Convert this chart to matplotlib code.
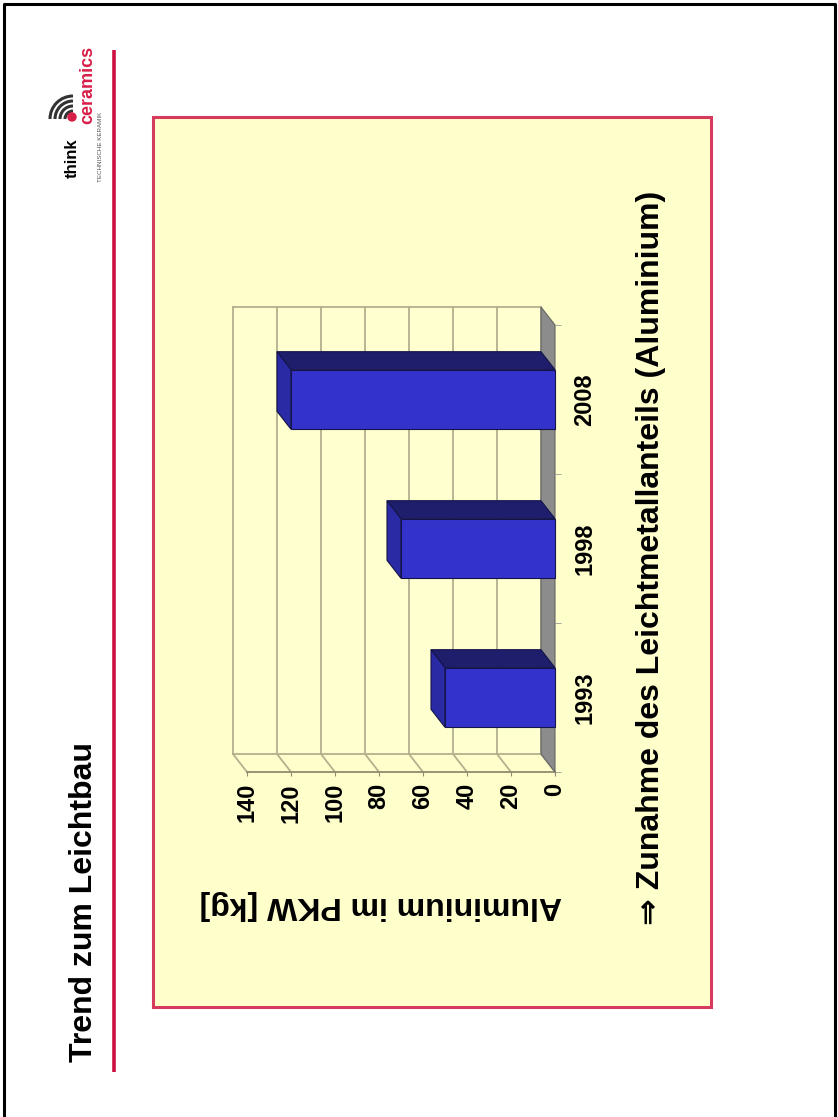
import matplotlib.pyplot as plt
from matplotlib.patches import Polygon, Rectangle, Arc, Circle

plt.rcParams['font.family'] = ['Liberation Sans', 'DejaVu Sans']

# data
years = ["2008", "1998", "1993"]
aluminium_kg = [120, 70, 50]
value_ticks = [0, 20, 40, 60, 80, 100, 120, 140]

W, H = 838, 1117
fig = plt.figure(figsize=(W / 100, H / 100), dpi=100)

# slide layer, pixel coordinates (y down)
bg = fig.add_axes([0, 0, 1, 1])
bg.set_xlim(0, W)
bg.set_ylim(H, 0)
bg.axis('off')

bg.plot([4, 4, 835, 835], [H, 4, 4, H], color='black', lw=2.2)
bg.add_patch(Rectangle((153, 117), 558, 890, fc='#ffffcc', ec='#d63a5c', lw=2.2))
bg.plot([114, 114], [50, 1072], color='#cc1040', lw=2.6, solid_capstyle='butt')

fig.text(84 / W, 1 - 1062 / H, "Trend zum Leichtbau", rotation=90,
         ha='center', va='bottom', fontsize=23, fontweight='bold')

# logo
for r in [8, 13, 18, 23]:
    bg.add_patch(Arc((73, 119), 2 * r, 2 * r, theta1=180, theta2=270,
                     color='#333333', lw=2.2))
bg.add_patch(Circle((72, 117), 4, color='#d81e48'))
fig.text(72 / W, 1 - 178 / H, "think", rotation=90, ha='center', va='bottom',
         fontsize=12, fontweight='bold')
fig.text(88 / W, 1 - 124 / H, "ceramics", rotation=90, ha='center', va='bottom',
         fontsize=13, fontweight='bold', color='#d81e48')
fig.text(100.5 / W, 1 - 182 / H, "TECHNISCHE KERAMIK", rotation=90, ha='center',
         va='bottom', fontsize=4.5, color='#555555')

# chart axes: value axis runs right-to-left, categories top-to-bottom
x0, x1, ytop, ybot = 247, 555, 325, 772
ax = fig.add_axes([x0 / W, 1 - ybot / H, (x1 - x0) / W, (ybot - ytop) / H])
ax.patch.set_alpha(0)
vmax = value_ticks[-1]
ax.set_xlim(vmax, 0)
ax.set_ylim(len(years) - 0.5, -0.5)
for s in ax.spines.values():
    s.set_visible(False)

# depth offset of the back plane (14 px left, 18 px up)
dv = 14 * vmax / (x1 - x0)
dc = -18 * len(years) / (ybot - ytop)
c_lo, c_hi = -0.5, len(years) - 0.5
grid_c = '#b3b08e'

# back wall with gridlines
ax.add_patch(Polygon([(dv, c_lo + dc), (vmax + dv, c_lo + dc),
                      (vmax + dv, c_hi + dc), (dv, c_hi + dc)],
                     fc='#ffffd0', ec='none', clip_on=False, zorder=1))
for v in value_ticks:
    ax.plot([v + dv, v + dv], [c_lo + dc, c_hi + dc], color=grid_c, lw=1.3,
            clip_on=False, zorder=2)
    ax.plot([v + dv, v], [c_hi + dc, c_hi], color=grid_c, lw=1.3,
            clip_on=False, zorder=2)
ax.plot([dv, vmax + dv], [c_lo + dc, c_lo + dc], color=grid_c, lw=1.3,
        clip_on=False, zorder=2)
ax.plot([dv, vmax + dv], [c_hi + dc, c_hi + dc], color=grid_c, lw=1.3,
        clip_on=False, zorder=2)
ax.plot([0, vmax], [c_hi, c_hi], color='#8f8c70', lw=1.3, clip_on=False, zorder=2)

# floor
ax.add_patch(Polygon([(0, c_lo), (0, c_hi), (dv, c_hi + dc), (dv, c_lo + dc)],
                     fc='#8c8c8c', ec='#666666', lw=0.8, clip_on=False, zorder=3))

# 3d bars
hw = 0.2
for i, v in enumerate(aluminium_kg):
    top, bot = i - hw, i + hw
    ax.add_patch(Polygon([(v, top), (0, top), (dv, top + dc), (v + dv, top + dc)],
                         fc='#1e1e6c', ec='#14144a', lw=0.8, clip_on=False, zorder=4))
    ax.add_patch(Polygon([(v, top), (v, bot), (v + dv, bot + dc), (v + dv, top + dc)],
                         fc='#2a2aa4', ec='#14144a', lw=0.8, clip_on=False, zorder=4))
    ax.add_patch(Polygon([(v, top), (0, top), (0, bot), (v, bot)],
                         fc='#3333cc', ec='#14144a', lw=0.8, clip_on=False, zorder=5))

# ticks and labels
ax.set_xticks(value_ticks)
ax.set_xticklabels([str(v) for v in value_ticks], rotation=90,
                   fontsize=17, fontweight='bold')
ax.tick_params(axis='x', length=3, color='#8f8c70', pad=5)

ax.set_yticks(range(len(years)))
ax.set_yticklabels(years, rotation=90, va='center', fontsize=17, fontweight='bold')
ax.set_yticks([c - 0.5 for c in range(len(years) + 1)], minor=True)
ax.tick_params(axis='y', which='both', left=False, right=True,
               labelleft=False, labelright=True)
ax.tick_params(axis='y', which='major', length=0, pad=13)
ax.tick_params(axis='y', which='minor', length=4, color='#9a9a9a')

ax.set_xlabel("Aluminium im PKW [kg]", rotation=180, fontsize=23,
              fontweight='bold', va='center')
ax.xaxis.set_label_coords((381 - x0) / (x1 - x0), -(905 - ybot) / (ybot - ytop))

fig.text(651 / W, 1 - 925 / H, "\u21d2 Zunahme des Leichtmetallanteils (Aluminium)",
         rotation=90, ha='center', va='bottom', fontsize=23, fontweight='bold')

fig.savefig("out.png", dpi=100)
